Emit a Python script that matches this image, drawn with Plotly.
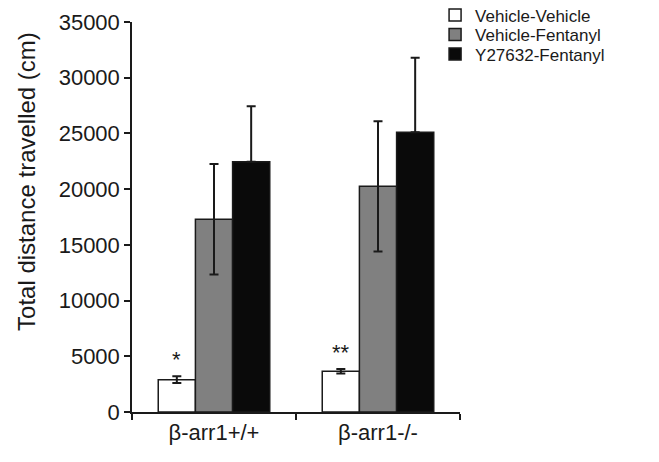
import plotly.graph_objects as go

categories = ["β-arr1+/+", "β-arr1-/-"]
series_names = ["Vehicle-Vehicle", "Vehicle-Fentanyl", "Y27632-Fentanyl"]
veh_veh = [2900, 3650]
veh_veh_err = [300, 200]
veh_fent = [17300, 20250]
veh_fent_err = [4950, 5850]
y27_fent = [22450, 25100]
y27_fent_err = [5000, 6700]
significance = ["*", "**"]

colors = ["#ffffff", "#808080", "#0a0a0a"]
values = [veh_veh, veh_fent, y27_fent]
errors = [veh_veh_err, veh_fent_err, y27_fent_err]
# only the upward whisker is visible on the black bars
lower_errors = [veh_veh_err, veh_fent_err, [0, 0]]

FONT = "Liberation Sans, Arial, sans-serif"
INK = "#1a1a1a"
bargap = 0.32

fig = go.Figure()
legend_ids = ["legend", "legend2", "legend3"]
for name, vals, errs, lerrs, col, lid in zip(series_names, values, errors,
                                             lower_errors, colors, legend_ids):
    fig.add_trace(go.Bar(
        name=name, x=categories, y=vals, legend=lid,
        marker=dict(color=col, line=dict(color=INK, width=1.5)),
        error_y=dict(type="data", array=errs, arrayminus=lerrs, symmetric=False,
                     visible=True, color=INK, thickness=2, width=4.5),
    ))

# significance markers above the white bars
bw = (1 - bargap) / 3
for i, (v, e, s) in enumerate(zip(veh_veh, veh_veh_err, significance)):
    fig.add_annotation(x=i - bw, y=v + e, xref="x", yref="y", text=s,
                       showarrow=False, yanchor="bottom", yshift=2,
                       font=dict(family=FONT, size=22, color=INK))

# y-axis title (placed like the original, a bit above the axis centre)
fig.add_annotation(text="Total distance travelled (cm)", textangle=-90,
                   xref="paper", yref="paper", x=-0.32, y=0.59,
                   xanchor="center", yanchor="middle", showarrow=False,
                   font=dict(family=FONT, size=24, color=INK))

legend_style = dict(xanchor="left", yanchor="middle", x=0.924,
                    font=dict(family=FONT, size=17, color=INK),
                    itemwidth=30, bgcolor="rgba(0,0,0,0)",
                    itemclick=False, itemdoubleclick=False)
legend_rows_y = [1.017, 0.967, 0.917]

# the page adds a small body margin, so the figure is a bit smaller
fig.update_layout(
    width=651, height=454,
    margin=dict(l=124, r=199, t=14, b=50, autoexpand=False),
    paper_bgcolor="white", plot_bgcolor="white",
    barmode="group", bargap=bargap, bargroupgap=0,
    font=dict(family=FONT, size=22, color=INK),
    showlegend=True,
    legend=dict(y=legend_rows_y[0], **legend_style),
    legend2=dict(y=legend_rows_y[1], **legend_style),
    legend3=dict(y=legend_rows_y[2], **legend_style),
)
fig.update_yaxes(
    range=[0, 35000], dtick=5000, tickformat="d",
    showgrid=False, zeroline=False, automargin=False,
    showline=True, linecolor=INK, linewidth=1.5,
    ticks="outside", ticklen=6, tickcolor=INK, tickwidth=1.5,
    tickfont=dict(size=22),
)
fig.update_xaxes(
    showgrid=False, showline=True, linecolor=INK, linewidth=1.5, automargin=False,
    ticks="outside", tickson="boundaries", ticklen=6, tickcolor=INK, tickwidth=1.5,
    tickfont=dict(size=22),
)

fig.write_html("out.html")
